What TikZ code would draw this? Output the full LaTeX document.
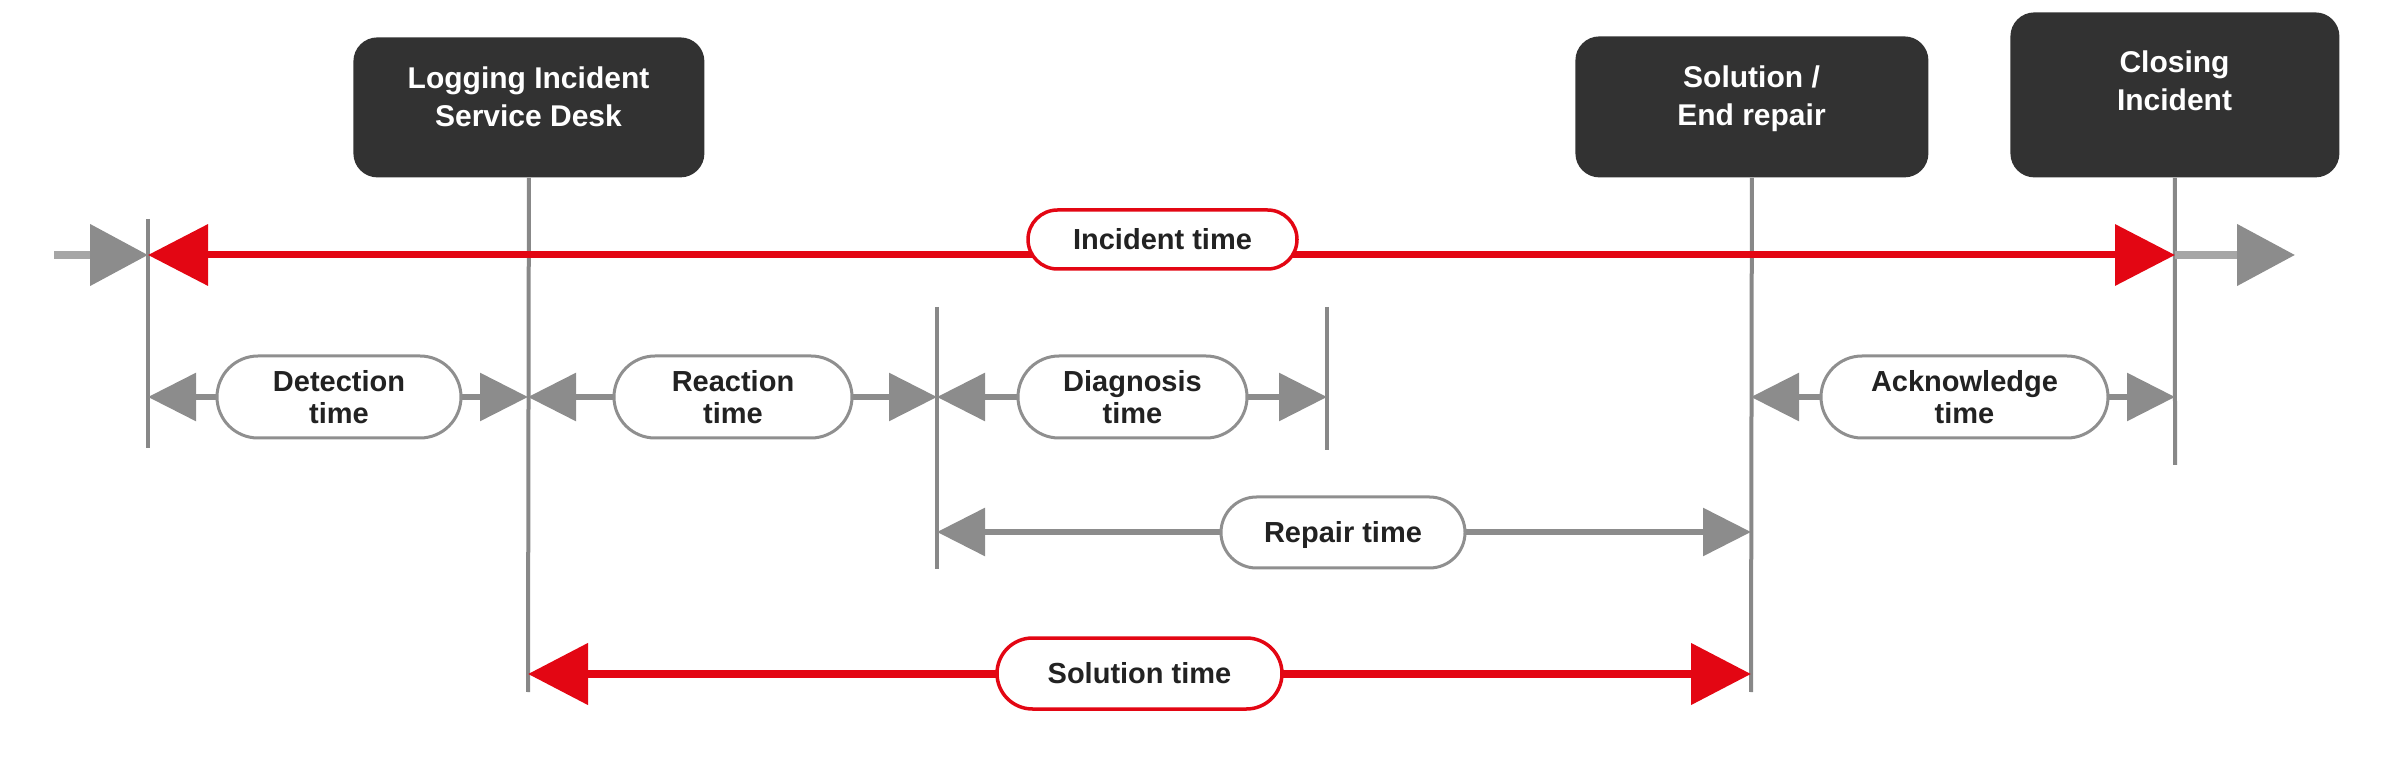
\documentclass[tikz,border=0pt]{standalone}
\usepackage{fontspec}
\setmainfont{Liberation Sans}
\usetikzlibrary{arrows.meta,shapes.misc}
\definecolor{boxdark}{HTML}{323232}
\definecolor{redc}{HTML}{E30613}
\definecolor{arrgray}{HTML}{8C8C8C}
\definecolor{vgray}{HTML}{888888}
\definecolor{stubgray}{HTML}{A6A6A6}
\definecolor{pillgray}{HTML}{8F8F8F}
\definecolor{txt}{HTML}{222222}
\begin{document}
\begin{tikzpicture}[x=0.5pt,y=-0.5pt,
 darkbox/.style={fill=boxdark, rounded corners=12pt, inner sep=0pt, anchor=north west},
 boxtext/.style={text=white, font=\bfseries\fontsize{15}{19}\selectfont, align=center, inner sep=0pt, anchor=north},
 pill/.style={rounded rectangle, draw=pillgray, line width=1.5pt, fill=white, inner sep=0pt, text=txt, align=center, font=\bfseries\fontsize{14.5}{16.25}\selectfont},
 onepill/.style={pill, text height=10.4pt, text depth=0pt},
 redpill/.style={onepill, draw=redc, line width=1.75pt},
 marker/.style={draw=vgray, line width=2pt},
 garrow/.style={draw=arrgray, line width=3pt, {Triangle[length=24pt,width=23.5pt]}-{Triangle[length=24pt,width=23.5pt]}},
 rarrow/.style={draw=redc, line width=3.5pt, {Triangle[length=30pt,width=30pt]}-{Triangle[length=30pt,width=30pt]}},
 stub/.style={draw=stubgray, line width=4pt, -{Triangle[length=29pt,width=30pt,color=arrgray]}},
]
\useasboundingbox (0,0) rectangle (2400,780);

% boxes
\node[darkbox, minimum width=175.5pt, minimum height=70pt] (log) at (353,37) {};
\node[boxtext] (logt) at (528.5,66) {Logging Incident\\Service Desk};
\node[darkbox, minimum width=176.5pt, minimum height=70.5pt] (sol) at (1575,36) {};
\node[boxtext] (solt) at (1751.5,65.5) {Solution /\\End repair};
\node[darkbox, minimum width=164.5pt, minimum height=82.5pt] (clo) at (2010,12) {};
\node[boxtext] (clot) at (2174.5,50.5) {Closing\\Incident};

% marker line ends
\coordinate (m0t) at (148,219);
\coordinate (m0b) at (148,448);
\coordinate (logb) at (528,692);
\coordinate (m1t) at (937,307);
\coordinate (m1b) at (937,569);
\coordinate (m2t) at (1327,307);
\coordinate (m2b) at (1327,450);
\coordinate (solb) at (1751,692);
\coordinate (clob) at (2175,465);

\draw[marker] (m0t) -- (m0b);
\draw[marker] (log.south) -- (logb);
\draw[marker] (m1t) -- (m1b);
\draw[marker] (m2t) -- (m2b);
\draw[marker] (sol.south) -- (solb);
\draw[marker] (clo.south) -- (clob);

% arrow end points
\coordinate (s0) at (54,255);
\coordinate (i0) at (148,255);
\coordinate (i1) at (2175,255);
\coordinate (s1) at (2295,255);
\coordinate (a0) at (148,397);
\coordinate (a1) at (528,397);
\coordinate (a2) at (937,397);
\coordinate (a3) at (1327,397);
\coordinate (a4) at (1751,397);
\coordinate (a5) at (2175,397);
\coordinate (r0) at (937,532);
\coordinate (r1) at (1751,532);
\coordinate (q0) at (528,674);
\coordinate (q1) at (1751,674);

% arrows
\draw[stub] (s0) -- (i0);
\draw[stub] (i1) -- (s1);
\draw[rarrow] (i0) -- (i1);
\draw[garrow] (a0) -- (a1);
\draw[garrow] (a1) -- (a2);
\draw[garrow] (a2) -- (a3);
\draw[garrow] (a4) -- (a5);
\draw[garrow] (r0) -- (r1);
\draw[rarrow, line width=4pt] (q0) -- (q1);

% pills
\node[redpill, minimum width=134.5pt, minimum height=29.5pt] (inc) at (1162.5,239.5) {Incident time};
\node[pill, minimum width=122pt, minimum height=41pt] (det) at (339,397) {Detection\\time};
\node[pill, minimum width=119pt, minimum height=41pt] (rea) at (733,397) {Reaction\\time};
\node[pill, minimum width=114.5pt, minimum height=41pt] (dia) at (1132.5,397) {Diagnosis\\time};
\node[pill, minimum width=143.5pt, minimum height=41pt] (ack) at (1964.5,397) {Acknowledge\\time};
\node[onepill, minimum width=122pt, minimum height=35.5pt] (rep) at (1343,532.5) {Repair time};
\node[redpill, minimum width=142.5pt, minimum height=35.5pt] (solu) at (1139.5,673.5) {Solution time};
\end{tikzpicture}
\end{document}
